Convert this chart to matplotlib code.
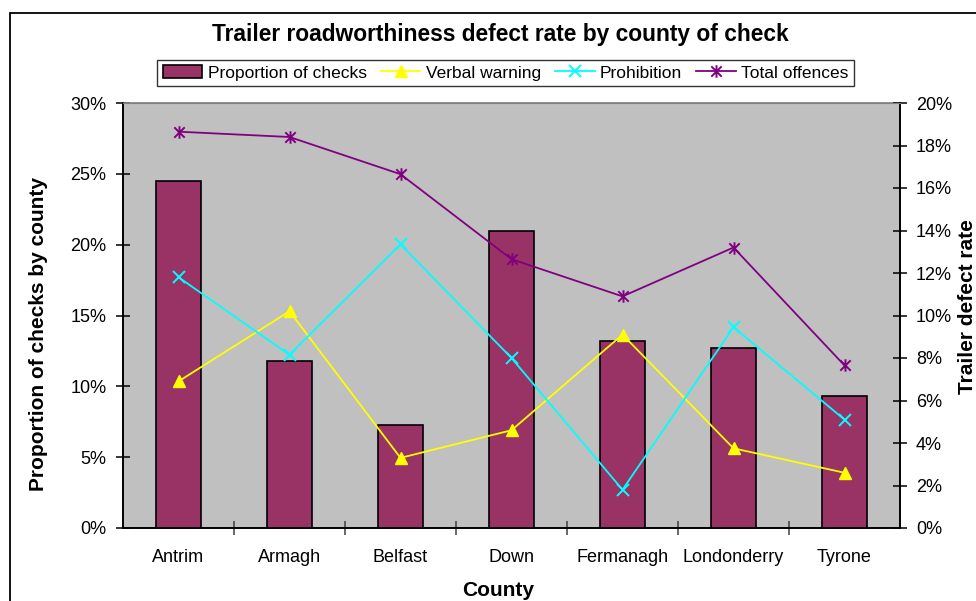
"""Trailer roadworthiness defect rate by county of check (Excel-style combo chart)."""

import matplotlib

matplotlib.use("Agg")
import matplotlib.pyplot as plt
import numpy as np
from matplotlib.patches import Rectangle
from matplotlib.path import Path
from matplotlib.ticker import FixedLocator, PercentFormatter

plt.rcParams["font.family"] = ["Liberation Sans", "DejaVu Sans"]

counties = ["Antrim", "Armagh", "Belfast", "Down", "Fermanagh", "Londonderry", "Tyrone"]
# left axis: share of checks (%)
proportion_checks = [24.5, 11.8, 7.25, 21.0, 13.2, 12.7, 9.35]
# right axis: defect rates (%)
verbal_warning = [6.9, 10.2, 3.3, 4.6, 9.1, 3.75, 2.6]
prohibition = [11.8, 8.15, 13.35, 8.0, 1.8, 9.45, 5.1]
total_offences = [18.65, 18.4, 16.65, 12.65, 10.9, 13.2, 7.65]

BAR = "#993366"
PLOT_BG = "#C0C0C0"

# Excel "star" marker: an x with a vertical bar through it
star = Path(
    [(-1, -1), (1, 1), (-1, 1), (1, -1), (0, -1.2), (0, 1.2)],
    [Path.MOVETO, Path.LINETO, Path.MOVETO, Path.LINETO, Path.MOVETO, Path.LINETO],
)

W, H = 976, 601
fig = plt.figure(figsize=(W / 100, H / 100), dpi=100)
ax = fig.add_axes([123 / W, 1 - 528 / H, (900 - 123) / W, (528 - 103) / H])
ax.set_facecolor(PLOT_BG)

x = np.arange(len(counties))
bars = ax.bar(x, proportion_checks, width=0.405, color=BAR, edgecolor="black",
              linewidth=1.2, label="Proportion of checks", zorder=2)
ax.set_xlim(-0.5, len(counties) - 0.5)
ax.set_ylim(0, 30)
ax.yaxis.set_major_locator(FixedLocator(np.arange(0, 31, 5)))
ax.yaxis.set_major_formatter(PercentFormatter(decimals=0))
ax.set_xticks(x)
ax.set_xticklabels(counties)
ax.xaxis.set_minor_locator(FixedLocator(np.arange(0.5, len(counties) - 0.5, 1)))
ax.tick_params(axis="x", which="major", length=0, pad=15, labelsize=13)
ax.tick_params(axis="x", which="minor", direction="inout", length=10, width=1.1,
               color="#404040")
ax.tick_params(axis="y", direction="inout", length=10, width=1.1, pad=7, labelsize=13)
ax.set_xlabel("County", fontsize=15, fontweight="bold", va="center")
ax.xaxis.set_label_coords(0.483, -0.146)
ax.set_ylabel("Proportion of checks by county", fontsize=15, fontweight="bold",
              va="center")
ax.yaxis.set_label_coords(-0.109, 0.456)
for side in ("left", "bottom", "right"):
    ax.spines[side].set_color("black")
    ax.spines[side].set_linewidth(1.2)
ax.spines["top"].set_color("#808080")
ax.spines["top"].set_linewidth(1.2)

ax2 = ax.twinx()
ax2.set_ylim(0, 20)
ax2.yaxis.set_major_locator(FixedLocator(np.arange(0, 21, 2)))
ax2.yaxis.set_major_formatter(PercentFormatter(decimals=0))
ax2.tick_params(axis="y", direction="inout", length=10, width=1.1, pad=6.5,
                labelsize=13)
ax2.set_ylabel("Trailer defect rate", fontsize=15, fontweight="bold", va="center",
               rotation=90)
ax2.yaxis.set_label_coords(1.087, 0.522)
for side in ("left", "bottom", "right"):
    ax2.spines[side].set_color("black")
    ax2.spines[side].set_linewidth(1.2)
ax2.spines["top"].set_color("#808080")

l1, = ax2.plot(x, verbal_warning, color="#FFFF00", lw=1.3, marker="^", ms=8,
               label="Verbal warning")
l2, = ax2.plot(x, prohibition, color="#00FFFF", lw=1.3, marker="x", ms=8, mew=1.4,
               label="Prohibition")
l3, = ax2.plot(x, total_offences, color="#800080", lw=1.3, marker=star, ms=9, mew=1.4,
               label="Total offences")

fig.text(500 / W, 1 - 35 / H, "Trailer roadworthiness defect rate by county of check",
         ha="center", va="center", fontsize=16.4, fontweight="bold")

leg = fig.legend([bars, l1, l2, l3],
                 ["Proportion of checks", "Verbal warning", "Prohibition", "Total offences"],
                 loc="center", bbox_to_anchor=(505.5 / W, 1 - 73 / H), ncol=4,
                 fontsize=12.5, frameon=True, fancybox=False, edgecolor="black",
                 handlelength=2.3, handletextpad=0.3, columnspacing=0.8,
                 borderpad=0.3, borderaxespad=0)
leg.get_frame().set_linewidth(1.0)

# outer chart-area border (runs off the right/bottom edge like the source)
fig.patches.append(Rectangle((10 / W, -0.1), 1.2, 1 - 13 / H + 0.1,
                             transform=fig.transFigure, fill=False,
                             edgecolor="black", linewidth=1.3))

fig.savefig("out.png", dpi=100)
